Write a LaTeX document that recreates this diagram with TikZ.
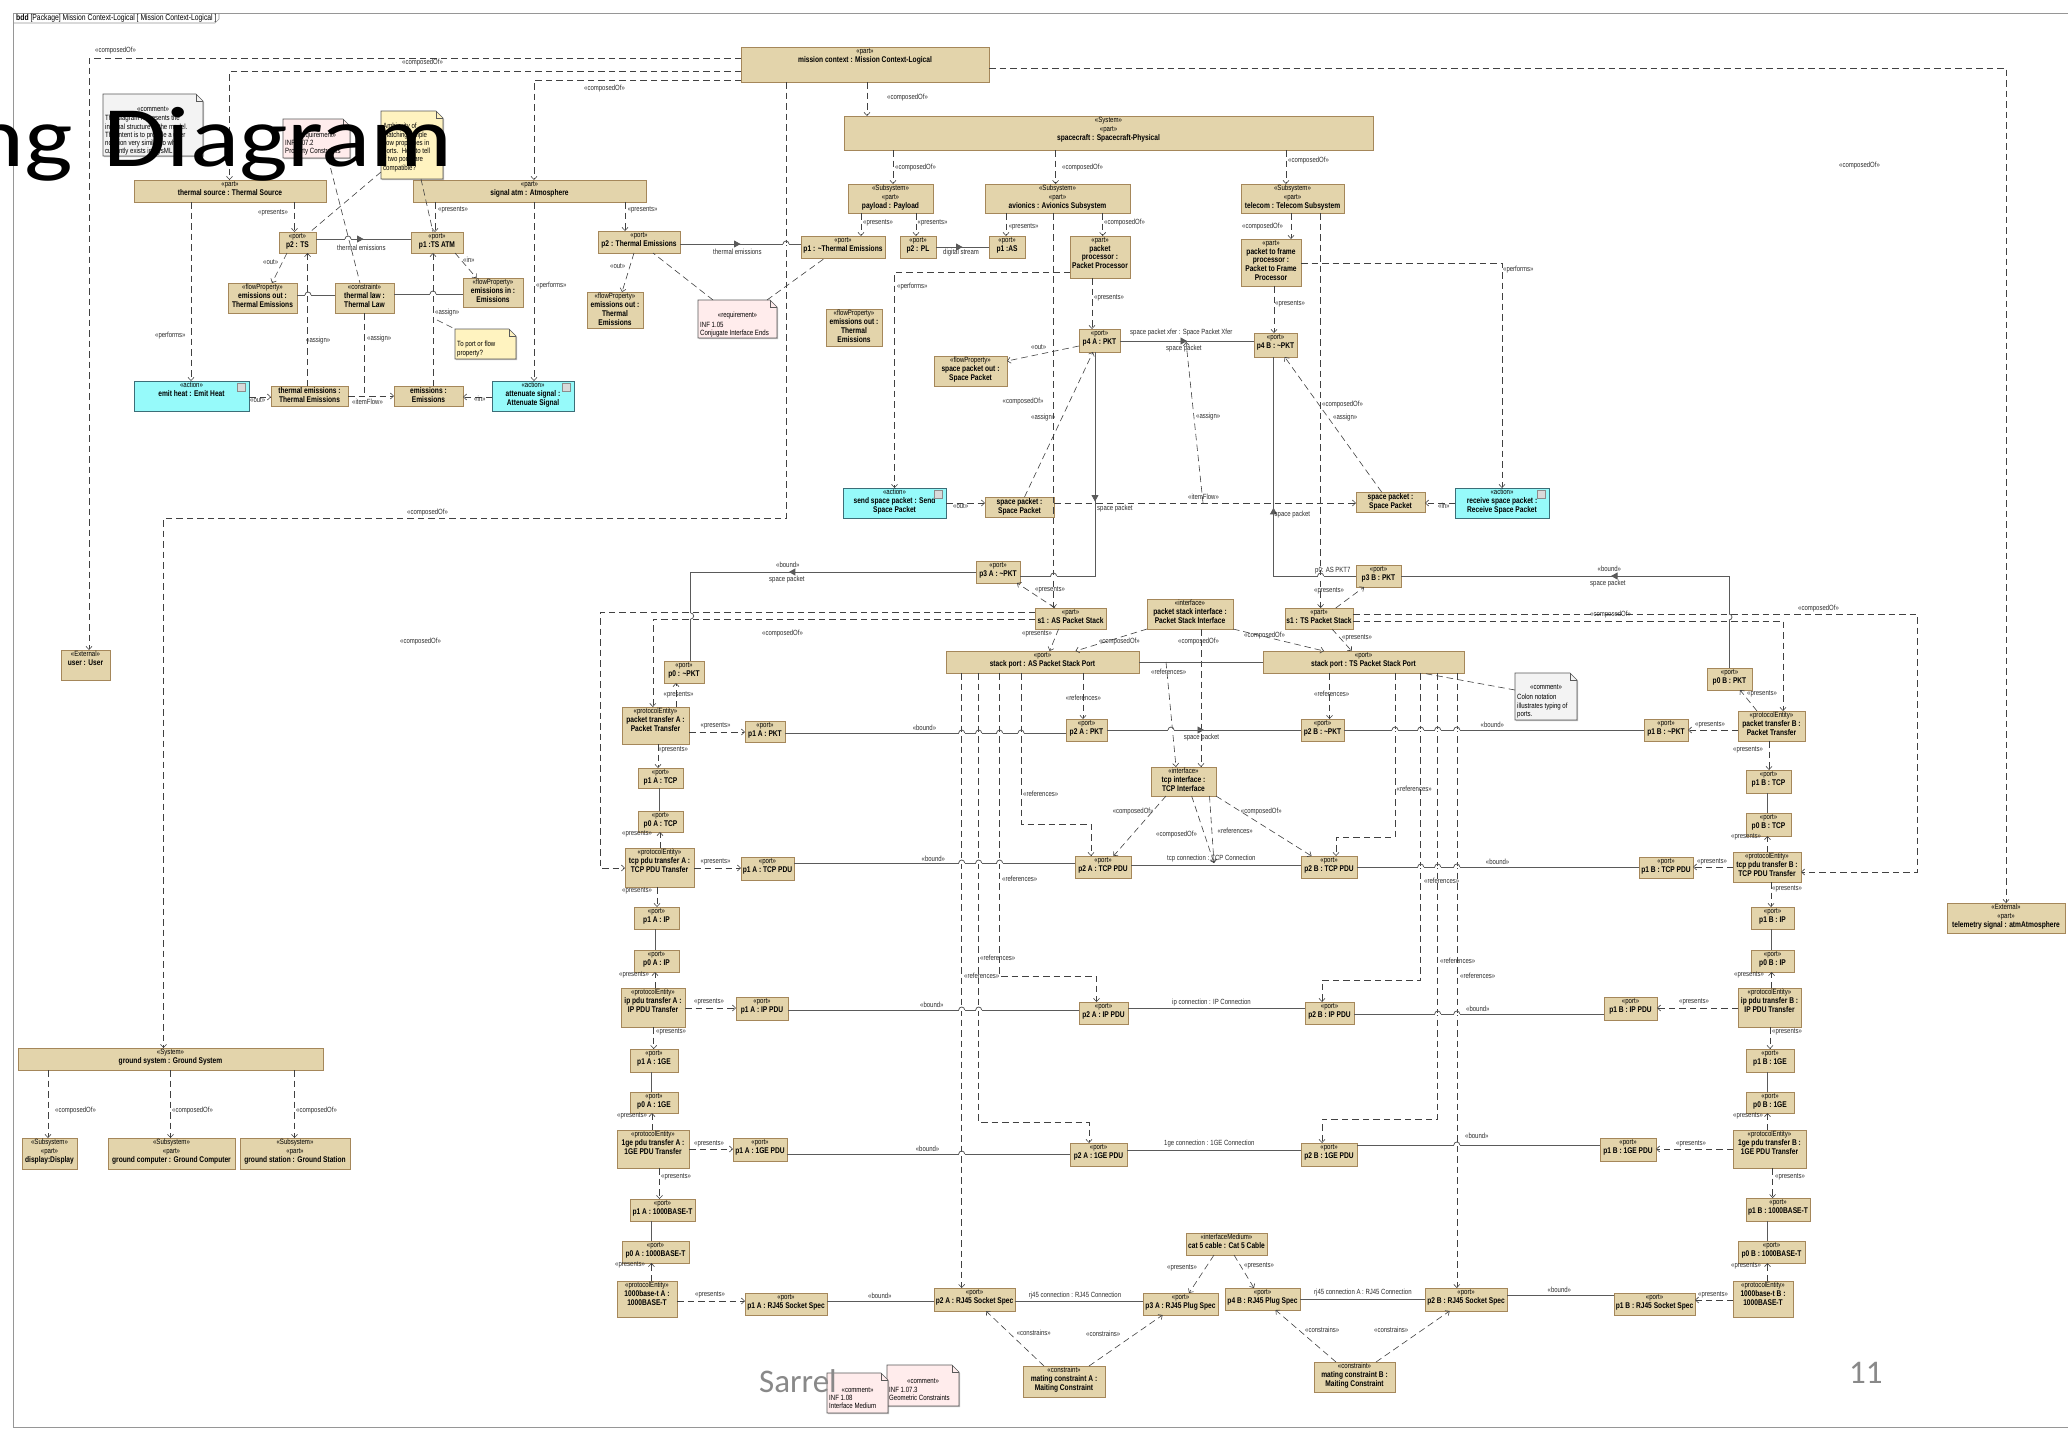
\documentclass[tikz,border=0pt]{standalone}
\usepackage{fontspec}
\setmainfont{Liberation Sans}
\newfontfamily\umlf[FakeStretch=0.8]{Liberation Sans}
\newfontfamily\slidef{Carlito}
\usetikzlibrary{arrows.meta,shadows,decorations.markings}

\definecolor{boxfill}{RGB}{227,212,171}
\definecolor{boxline}{RGB}{165,135,90}
\definecolor{actfill}{RGB}{150,250,250}
\definecolor{actline}{RGB}{60,110,120}
\definecolor{lnc}{RGB}{65,65,65}
\definecolor{slc}{RGB}{90,90,90}
\definecolor{txtc}{RGB}{45,45,45}
\definecolor{notegray}{RGB}{243,243,243}
\definecolor{notepink}{RGB}{255,236,236}
\definecolor{noteyel}{RGB}{255,243,192}
\definecolor{framec}{RGB}{150,150,150}
\definecolor{slidegray}{RGB}{137,137,137}

\newcommand\sto[1]{{\mdseries\fontsize{7.6}{8.8}\selectfont«#1»}}
\newcommand\gq[1]{«#1»}
% block: [style]{name}{x1}{y1}{x2}{y2}{text}
\newcommand\ubox[7][]{%
  \node[ubox,#1,minimum width={#5-#3},minimum height={#6-#4},anchor=north west] (#2) at (#3,#4) {};%
  \node[utext] (#2-t) at (#2.north) {#7};}
% note with folded corner: [fill]{name}{x1}{y1}{x2}{y2}
\newcommand\unote[6][]{%
  \node[inner sep=0pt,outer sep=0pt,minimum width={#5-#3},minimum height={#6-#4},anchor=north west] (#2) at (#3,#4) {};%
  \filldraw[notepath,#1] (#2.north west) -- ([xshift=-7pt]#2.north east) -- ([yshift=-7pt]#2.north east) -- (#2.south east) -- (#2.south west) -- cycle;%
  \draw[notefold] ([xshift=-7pt]#2.north east) |- ([yshift=-7pt]#2.north east);}
\newcommand\acticon[1]{\draw[draw=black!45,fill=black!15,line width=0.4pt] ([xshift=-12pt,yshift=-2.5pt]#1.north east) rectangle ([xshift=-4pt,yshift=-10pt]#1.north east);}
% line hops where a solid connector crosses another line
\newcommand\hop[2]{\fill[white] ({#1-3},{#2-1.3}) rectangle ({#1+3},{#2+1.3}); \draw[sln] ({#1-3},#2) arc[start angle=180,end angle=360,radius=3];}
\newcommand\vhop[2]{\fill[white] ({#1-1.3},{#2-3}) rectangle ({#1+1.3},{#2+3}); \draw[sln] (#1,{#2-3}) arc[start angle=270,end angle=450,radius=3];}
\newcounter{lb}
\newcommand\lab[2]{\stepcounter{lb}\node[lbl] (lab\the\value{lb}) at (#1) {#2};}

\tikzset{
  ubox/.style={draw=boxline, fill=boxfill, line width=0.7pt, inner sep=0pt, outer sep=0pt,
    drop shadow={shadow xshift=1.3pt, shadow yshift=-1.3pt, fill=black, opacity=0.3}},
  act/.style={draw=actline, fill=actfill},
  utext/.style={anchor=north, inner sep=1.2pt, align=center, text=black,
    font=\umlf\bfseries\fontsize{8.3}{8.8}\selectfont},
  ntext/.style={anchor=north west, inner sep=0pt, align=left, text=black,
    font=\umlf\fontsize{7.6}{8.3}\selectfont},
  notepath/.style={draw=black!65, line width=0.6pt,
    drop shadow={shadow xshift=1.2pt, shadow yshift=-1.2pt, fill=black, opacity=0.25}},
  notefold/.style={draw=black!65, line width=0.6pt},
  lbl/.style={anchor=west, inner sep=0pt, text=txtc, font=\umlf\fontsize{7.5}{8}\selectfont},
  dep/.style={draw=lnc, line width=0.6pt, dash pattern=on 6.5pt off 4pt,
    -{Straight Barb[length=3.2pt,width=6pt]}},
  dln/.style={draw=lnc, line width=0.6pt, dash pattern=on 6.5pt off 4pt},
  sln/.style={draw=slc, line width=0.8pt},
  flow/.style={sln, postaction={decorate}, decoration={markings,
    mark=at position 0.5 with {\arrow{Triangle[length=6.5pt,width=7pt]}}}},
}

\begin{document}
\begin{tikzpicture}[x=1pt,y=-1pt]
\useasboundingbox (0,0) rectangle (2068,1428);
\clip (0,0) rectangle (2068,1428);
\fill[white] (0,0) rectangle (2068,1428);

% diagram frame and its name tab
\draw[framec, line width=0.7pt] (2075,13) -- (13,13) -- (13,1427) -- (2075,1427);
\draw[framec, line width=0.6pt] (13,23) -- (215,23) -- (219,19) -- (219,13);
\node[anchor=west, inner sep=0pt, font=\umlf\fontsize{8.5}{9}\selectfont] (tab) at (16,18) {\textbf{bdd} [Package] Mission Context-Logical [ Mission Context-Logical ]};

% ---------------- blocks ----------------
\ubox{mission}{741}{47}{989}{82}{\sto{part}\\mission context : Mission Context-Logical}
\ubox{sc}{844}{116}{1373}{150}{\sto{System}\\\sto{part}\\spacecraft : Spacecraft-Physical}
\ubox{payload}{848}{184}{933}{213}{\sto{Subsystem}\\\sto{part}\\payload : Payload}
\ubox{avionics}{985}{184}{1130}{213}{\sto{Subsystem}\\\sto{part}\\avionics : Avionics Subsystem}
\ubox{telecom}{1241}{184}{1344}{213}{\sto{Subsystem}\\\sto{part}\\telecom : Telecom Subsystem}

\ubox{thermsrc}{134}{180}{326}{202}{\sto{part}\\thermal source : Thermal Source}
\ubox{sigatm}{413}{180}{646}{202}{\sto{part}\\signal atm : Atmosphere}
\ubox{p2TS}{279}{232}{316}{253}{\sto{port}\\p2 : TS}
\ubox{p1TSATM}{411}{232}{463}{253}{\sto{port}\\p1 :TS ATM}
\ubox{emout1}{228}{283}{297}{313}{\sto{flowProperty}\\emissions out :\\Thermal Emissions}
\ubox{thlaw}{335}{283}{394}{313}{\sto{constraint}\\thermal law :\\Thermal Law}
\ubox{emin}{463}{278}{523}{307}{\sto{flowProperty}\\emissions in :\\Emissions}
\ubox[act]{emitheat}{134}{381}{249}{411}{\sto{action}\\emit heat : Emit Heat}
\ubox{themis}{271}{386}{348}{406}{thermal emissions :\\Thermal Emissions}
\ubox{emis}{394}{386}{463}{406}{emissions :\\Emissions}
\ubox[act]{atten}{492}{381}{574}{411}{\sto{action}\\attenuate signal :\\Attenuate Signal}
\acticon{emitheat}\acticon{atten}

\ubox{p2TE}{598}{231}{680}{253}{\sto{port}\\p2 : Thermal Emissions}
\ubox{emout2}{587}{292}{643}{328}{\sto{flowProperty}\\emissions out :\\Thermal\\Emissions}
\ubox{p1TE}{801}{236}{885}{258}{\sto{port}\\p1 : \textasciitilde Thermal Emissions}
\ubox{p2PL}{900}{236}{936}{258}{\sto{port}\\p2 : PL}
\ubox{p1AS}{989}{236}{1025}{258}{\sto{port}\\p1 :AS}
\ubox{pktproc}{1070}{236}{1130}{278}{\sto{part}\\packet\\processor :\\Packet Processor}
\ubox{emout3}{826}{309}{882}{346}{\sto{flowProperty}\\emissions out :\\Thermal\\Emissions}
\ubox{p2f}{1241}{239}{1301}{286}{\sto{part}\\packet to frame\\processor :\\Packet to Frame\\Processor}

\ubox{p4A}{1079}{329}{1120}{352}{\sto{port}\\p4 A : PKT}
\ubox{p4B}{1254}{333}{1297}{357}{\sto{port}\\p4 B : \textasciitilde PKT}
\ubox{spout}{934}{356}{1007}{386}{\sto{flowProperty}\\space packet out :\\Space Packet}
\ubox[act]{sendsp}{843}{488}{946}{518}{\sto{action}\\send space packet : Send\\Space Packet}
\ubox{spA}{985}{497}{1054}{517}{space packet :\\Space Packet}
\ubox{spB}{1356}{492}{1425}{512}{space packet :\\Space Packet}
\ubox[act]{recvsp}{1455}{488}{1549}{518}{\sto{action}\\receive space packet :\\Receive Space Packet}
\acticon{sendsp}\acticon{recvsp}
\ubox{p3A}{976}{561}{1020}{583}{\sto{port}\\p3 A : \textasciitilde PKT}
\ubox{p3B}{1356}{565}{1401}{587}{\sto{port}\\p3 B : PKT}
\ubox{s1AS}{1035}{608}{1106}{629}{\sto{part}\\s1 : AS Packet Stack}
\ubox{s1TS}{1285}{608}{1353}{629}{\sto{part}\\s1 : TS Packet Stack}
\ubox{psi}{1147}{599}{1233}{629}{\sto{interface}\\packet stack interface :\\Packet Stack Interface}
\ubox{spAS}{946}{651}{1139}{673}{\sto{port}\\stack port : AS Packet Stack Port}
\ubox{spTS}{1263}{651}{1464}{673}{\sto{port}\\stack port : TS Packet Stack Port}

\ubox{p0A}{664}{661}{704}{683}{\sto{port}\\p0 : \textasciitilde PKT}
\ubox{ptA}{622}{707}{689}{744}{\sto{protocolEntity}\\packet transfer A :\\Packet Transfer}
\ubox{p1APKT}{745}{721}{785}{742}{\sto{port}\\p1 A : PKT}
\ubox{p2APKT}{1066}{719}{1107}{741}{\sto{port}\\p2 A : PKT}
\ubox{p2BPKT}{1301}{719}{1344}{741}{\sto{port}\\p2 B : \textasciitilde PKT}
\ubox{p1BPKT}{1644}{719}{1688}{741}{\sto{port}\\p1 B : \textasciitilde PKT}
\ubox{p0B}{1707}{668}{1752}{690}{\sto{port}\\p0 B : PKT}
\ubox{ptB}{1738}{711}{1805}{741}{\sto{protocolEntity}\\packet transfer B :\\Packet Transfer}
\ubox{tcpI}{1151}{767}{1216}{796}{\sto{interface}\\tcp interface :\\TCP Interface}
\ubox{p1ATCP}{638}{768}{683}{788}{\sto{port}\\p1 A : TCP}
\ubox{p0ATCP}{638}{811}{683}{832}{\sto{port}\\p0 A : TCP}
\ubox{tpA}{625}{848}{694}{887}{\sto{protocolEntity}\\tcp pdu transfer A :\\TCP PDU Transfer}
\ubox{p1ATPDU}{741}{857}{794}{880}{\sto{port}\\p1 A : TCP PDU}
\ubox{p2ATPDU}{1075}{856}{1131}{878}{\sto{port}\\p2 A : TCP PDU}
\ubox{p2BTPDU}{1301}{856}{1357}{878}{\sto{port}\\p2 B : TCP PDU}
\ubox{p1BTPDU}{1639}{857}{1693}{878}{\sto{port}\\p1 B : TCP PDU}
\ubox{tpB}{1733}{852}{1801}{882}{\sto{protocolEntity}\\tcp pdu transfer B :\\TCP PDU Transfer}
\ubox{p1BTCP}{1746}{770}{1791}{793}{\sto{port}\\p1 B : TCP}
\ubox{p0BTCP}{1746}{813}{1791}{836}{\sto{port}\\p0 B : TCP}

\ubox{p1AIP}{634}{907}{679}{929}{\sto{port}\\p1 A : IP}
\ubox{p0AIP}{634}{950}{679}{972}{\sto{port}\\p0 A : IP}
\ubox{ipA}{621}{988}{685}{1027}{\sto{protocolEntity}\\ip pdu transfer A :\\IP PDU Transfer}
\ubox{p1AIPPDU}{736}{997}{788}{1020}{\sto{port}\\p1 A : IP PDU}
\ubox{p2AIPPDU}{1079}{1002}{1128}{1024}{\sto{port}\\p2 A : IP PDU}
\ubox{p2BIPPDU}{1305}{1002}{1354}{1024}{\sto{port}\\p2 B : IP PDU}
\ubox{p1BIPPDU}{1604}{997}{1657}{1020}{\sto{port}\\p1 B : IP PDU}
\ubox{ipB}{1738}{988}{1801}{1027}{\sto{protocolEntity}\\ip pdu transfer B :\\IP PDU Transfer}
\ubox{p1BIP}{1751}{907}{1794}{929}{\sto{port}\\p1 B : IP}
\ubox{p0BIP}{1751}{950}{1794}{972}{\sto{port}\\p0 B : IP}

\ubox{p1A1GE}{630}{1049}{678}{1072}{\sto{port}\\p1 A : 1GE}
\ubox{p0A1GE}{630}{1092}{678}{1113}{\sto{port}\\p0 A : 1GE}
\ubox{geA}{617}{1130}{689}{1168}{\sto{protocolEntity}\\1ge pdu transfer A :\\1GE PDU Transfer}
\ubox{p1A1GEPDU}{733}{1138}{787}{1161}{\sto{port}\\p1 A : 1GE PDU}
\ubox{p2A1GEPDU}{1070}{1143}{1127}{1166}{\sto{port}\\p2 A : 1GE PDU}
\ubox{p2B1GEPDU}{1301}{1143}{1357}{1166}{\sto{port}\\p2 B : 1GE PDU}
\ubox{p1B1GEPDU}{1600}{1138}{1656}{1161}{\sto{port}\\p1 B : 1GE PDU}
\ubox{geB}{1733}{1130}{1806}{1168}{\sto{protocolEntity}\\1ge pdu transfer B :\\1GE PDU Transfer}
\ubox{p1B1GE}{1746}{1049}{1794}{1072}{\sto{port}\\p1 B : 1GE}
\ubox{p0B1GE}{1746}{1092}{1794}{1113}{\sto{port}\\p0 B : 1GE}

\ubox{p1A1000}{630}{1199}{695}{1221}{\sto{port}\\p1 A : 1000BASE-T}
\ubox{p0A1000}{622}{1241}{689}{1263}{\sto{port}\\p0 A : 1000BASE-T}
\ubox{btA}{617}{1281}{677}{1317}{\sto{protocolEntity}\\1000base-t A :\\1000BASE-T}
\ubox{p1ARJ}{745}{1293}{827}{1315}{\sto{port}\\p1 A : RJ45 Socket Spec}
\ubox{p2ARJ}{934}{1288}{1015}{1311}{\sto{port}\\p2 A : RJ45 Socket Spec}
\ubox{p3ARJ}{1143}{1293}{1218}{1315}{\sto{port}\\p3 A : RJ45 Plug Spec}
\ubox{cat5}{1186}{1233}{1267}{1255}{\sto{interfaceMedium}\\cat 5 cable : Cat 5 Cable}
\ubox{p4BRJ}{1225}{1288}{1300}{1310}{\sto{port}\\p4 B : RJ45 Plug Spec}
\ubox{p2BRJ}{1425}{1288}{1507}{1311}{\sto{port}\\p2 B : RJ45 Socket Spec}
\ubox{p1BRJ}{1614}{1293}{1695}{1315}{\sto{port}\\p1 B : RJ45 Socket Spec}
\ubox{btB}{1733}{1281}{1793}{1317}{\sto{protocolEntity}\\1000base-t B :\\1000BASE-T}
\ubox{p1B1000}{1746}{1198}{1810}{1221}{\sto{port}\\p1 B : 1000BASE-T}
\ubox{p0B1000}{1738}{1241}{1805}{1263}{\sto{port}\\p0 B : 1000BASE-T}
\ubox{matA}{1023}{1366}{1105}{1397}{\sto{constraint}\\mating constraint A :\\Maiting Constraint}
\ubox{matB}{1314}{1362}{1395}{1392}{\sto{constraint}\\mating constraint B :\\Maiting Constraint}

\ubox{telem}{1947}{903}{2065}{933}{\sto{External}\\\sto{part}\\telemetry signal : atmAtmosphere}
\ubox{user}{61}{650}{110}{680}{\sto{External}\\user : User}
\ubox{ground}{18}{1048}{323}{1070}{\sto{System}\\ground system : Ground System}
\ubox{display}{22}{1138}{77}{1169}{\sto{Subsystem}\\\sto{part}\\display:Display}
\ubox{gcomp}{108}{1138}{235}{1169}{\sto{Subsystem}\\\sto{part}\\ground computer : Ground Computer}
\ubox{gstat}{240}{1138}{350}{1169}{\sto{Subsystem}\\\sto{part}\\ground station : Ground Station}

% ---------------- notes ----------------
\unote[fill=notegray]{comm1}{103}{94}{203}{156}
\node[ntext,anchor=north] (comm1-s) at ([yshift=-12pt]comm1.north) {«comment»};
\node[ntext] (comm1-t) at ([xshift=2pt,yshift=-21pt]comm1.north west) {The diagram represents the\\internal structure of the model.\\The intent is to provide a user\\notation very similar to what\\currently exists in SysML v1.};
\unote[fill=notepink]{req1072}{283}{119}{350}{158}
\begin{scope}
\clip (req1072.south west) rectangle ([xshift=-0.5pt]req1072.north east);
\node[ntext,anchor=north] (req1072-s) at ([yshift=-13pt]req1072.north) {«requirement»};
\node[ntext] (req1072-t) at ([xshift=2pt,yshift=-21pt]req1072.north west) {INF 1.07.2\\Property Constraints};
\end{scope}
\unote[fill=noteyel]{noteAmb}{381}{111}{443}{179}
\node[ntext] (noteAmb-t) at ([xshift=2pt,yshift=-12pt]noteAmb.north west) {Ambiguity of\\matching simple\\flow properties in\\ports.\ \ How to tell\\if two ports are\\compatible?};
\unote[fill=noteyel]{noteTo}{455}{329}{516}{359}
\node[ntext] (noteTo-t) at ([xshift=2pt,yshift=-12pt]noteTo.north west) {To port or flow\\property?};
\unote[fill=notepink]{req105}{698}{300}{777}{338}
\node[ntext,anchor=north] (req105-s) at ([yshift=-12pt]req105.north) {«requirement»};
\node[ntext] (req105-t) at ([xshift=2pt,yshift=-22pt]req105.north west) {INF 1.05\\Conjugate Interface Ends};
\unote[fill=notegray]{colon}{1515}{673}{1577}{720}
\node[ntext,anchor=north] (colon-s) at ([yshift=-11pt]colon.north) {«comment»};
\node[ntext] (colon-t) at ([xshift=2pt,yshift=-21pt]colon.north west) {Colon notation\\illustrates typing of\\ports.};
\unote[fill=notepink]{inf1073}{887}{1365}{959}{1406}
\node[ntext,anchor=north] (inf1073-s) at ([yshift=-13pt]inf1073.north) {«comment»};
\node[ntext] (inf1073-t) at ([xshift=2pt,yshift=-22pt]inf1073.north west) {INF 1.07.3\\Geometric Constraints};
\unote[fill=notepink]{inf108}{827}{1373}{888}{1413}
\node[ntext,anchor=north] (inf108-s) at ([yshift=-14pt]inf108.north) {«comment»};
\node[ntext] (inf108-t) at ([xshift=2pt,yshift=-22pt]inf108.north west) {INF 1.08\\Interface Medium};

% ---------------- composition from the mission context ----------------
\draw[dep] (mission.west |- 0,58) -| (user.north -| 89,0);
\draw[dep] (mission.west |- 0,71) -| (thermsrc.north -| 229.5,0);
\draw[dep] (mission.west |- 0,80) -| (sigatm.north -| 534,0);
\draw[dep] (mission.south -| 786,0) |- (163.5,518) -- (ground.north -| 163.5,0);
\draw[dep] (mission.south -| 867,0) -- (sc.north -| 867,0);
\draw[dep] (mission.east |- 0,68) -| (telem.north -| 2006,0);
\draw[dep] (sc.south -| 893,0) -- (payload.north -| 893,0);
\draw[dep] (sc.south -| 1055.6,0) -- (avionics.north -| 1055.6,0);
\draw[dep] (sc.south -| 1286,0) -- (telecom.north -| 1286,0);
\draw[dep] (payload.south -| 861,0) -- (p1TE.north -| 861,0);
\draw[dep] (payload.south -| 916,0) -- (p2PL.north -| 916,0);
\draw[dep] (avionics.south -| 1006,0) -- (p1AS.north -| 1006,0);
\draw[dep] (avionics.south -| 1102.7,0) -- (pktproc.north -| 1102.7,0);
\draw[dep] (telecom.south -| 1291,0) -- (p2f.north -| 1291,0);
\draw[dep] (pktproc.south -| 1092,0) -- (p4A.north -| 1092,0);
\draw[dep] (p2f.south -| 1274,0) -- (p4B.north -| 1274,0);
\draw[dep] (avionics.south -| 1053.6,0) -- (s1AS.north -| 1053.6,0);
\draw[dep] (telecom.south -| 1320.6,0) -- (s1TS.north -| 1320.6,0);
\draw[dep] (pktproc.west |- 0,272) -| (sendsp.north -| 894.5,0);
\draw[dep] (p2f.east |- 0,263) -| (recvsp.north -| 1502,0);

% ---------------- thermal emission ----------------
\draw[dep] (thermsrc.south -| 294.5,0) -- (p2TS.north -| 294.5,0);
\draw[dep] (sigatm.south -| 435,0) -- (p1TSATM.north -| 435,0);
\draw[flow] (p2TS.east |- 0,239) -- (p1TSATM.west |- 0,239);
\draw[dep] (p2TS.south -| 287,0) -- (emout1.north -| 272,0);
\draw[dep] (p1TSATM.south -| 455,0) -- (emin.north -| 476.5,0);
\draw[sln] (emout1.east |- 0,295) -- (thlaw.west |- 0,295);
\draw[sln] (thlaw.east |- 0,294) -- (emin.west |- 0,294);
\draw[dep] (thermsrc.south -| 191,0) -- (emitheat.north -| 191,0);
\draw[dep] (sigatm.south -| 534,0) -- (atten.north -| 534,0);
\draw[dep] (emitheat.east |- 0,397) -- (themis.west |- 0,397);
\draw[dep] (themis.east |- 0,396) -- (emis.west |- 0,396);
\draw[dep] (atten.west |- 0,397) -- (emis.east |- 0,397);
\draw[dep] (themis.north -| 307.6,0) -- (p2TS.south -| 307.6,0);
\coordinate (ifT) at (364,396);
\draw[dln] (thlaw.south -| 364,0) -- (ifT);
\draw[dep] (emis.north -| 433,0) -- (p1TSATM.south -| 433,0);
\coordinate (asgT) at (437,320);
\draw[dln] (asgT) -- (noteTo.north west);
\draw[dln] (noteAmb.west |- 0,172) -- (p2TS.north -| 310,0);
\draw[dln] (noteAmb.south -| 421,0) -- (p1TSATM.north -| 433,0);
\draw[dln] (req1072.south -| 328,0) -- (thlaw.north -| 360,0);

\draw[dep] (sigatm.south -| 625,0) -- (p2TE.north -| 625,0);
\draw[flow] (p2TE.east |- 0,244) -- (p1TE.west |- 0,244);
\draw[dep] (p2TE.south -| 634,0) -- (emout2.north -| 622,0);
\draw[dln] (req105.north -| 713,0) -- (p2TE.south -| 653,0);
\draw[dln] (req105.north -| 767,0) -- (p1TE.south -| 825,0);
\draw[flow] (p2PL.east |- 0,247) -- (p1AS.west |- 0,247);

% ---------------- space packet ----------------
\draw[flow] (p4A.east |- 0,341) -- (p4B.west |- 0,341);
\draw[dep] (p4A.west |- 0,346) -- (spout.east |- 0,361);
\draw[dep] (sendsp.east |- 0,503) -- (spA.west |- 0,503);
\draw[dep] (spA.east |- 0,503) -- (spB.west |- 0,503);
\draw[dep] (recvsp.west |- 0,503) -- (spB.east |- 0,503);
\coordinate (ifP) at (1203,503);
\coordinate (xferP) at (1186,342);
\draw[dep] (ifP) -- (xferP);
\draw[dep] (spA.north -| 1024.5,0) -- (p4A.south -| 1093,0);
\draw[dep] (spB.north -| 1381.6,0) -- (p4B.south -| 1284.7,0);
\draw[flow] (p4A.south -| 1095,0) |- (p3A.east |- 0,576);
\draw[flow] (p3B.west |- 0,576) -| (p4B.south -| 1273.5,0);
\draw[flow] (p3A.west |- 0,572) -| (p0A.north -| 690.7,0);
\draw[flow] (p0B.north -| 1729,0) |- (p3B.east |- 0,576);
\draw[dep] (s1AS.north -| 1055,0) -- (p3A.south -| 1017,0);
\draw[dep] (s1TS.north -| 1335.7,0) -- (p3B.south -| 1364,0);

% ---------------- packet stacks ----------------
\draw[dep] (s1AS.west |- 0,612) -| (600,868) -- (tpA.west |- 0,868);
\draw[dep] (s1AS.west |- 0,619) -| (ptA.north -| 652.8,0);
\draw[dep] (s1AS.south -| 1058.6,0) -- (spAS.north -| 1049.6,0);
\draw[dep] (s1TS.south -| 1332,0) -- (spTS.north -| 1351.7,0);
\draw[dep] (psi.south west) -- (spAS.north -| 1075.5,0);
\draw[dep] (psi.south east) -- (spTS.north -| 1324,0);
\draw[dep] (psi.south -| 1201,0) -- (tcpI.north -| 1201,0);
\draw[sln] (spAS.east |- 0,662) -- (spTS.west |- 0,662);
\coordinate (ssM) at (1166,662);
\draw[dep] (ssM) -- (tcpI.north -| 1176,0);
\draw[dep] (spAS.south -| 1083,0) -- (p2APKT.north -| 1083,0);
\draw[dep] (spTS.south -| 1329.5,0) -- (p2BPKT.north -| 1329.5,0);
\draw[flow] (p2APKT.east |- 0,730) -- (p2BPKT.west |- 0,730);
\draw[sln] (p1APKT.east |- 0,733) -- (p2APKT.west |- 0,733);
\draw[dep] (ptA.east |- 0,732) -- (p1APKT.west |- 0,732);
\draw[dep] (ptA.north -| 676,0) -- (p0A.south -| 676,0);
\draw[dep] (ptA.south -| 658,0) -- (p1ATCP.north -| 658,0);
\draw[sln] (p1ATCP.south -| 659.5,0) -- (p0ATCP.north -| 659.5,0);
\draw[dep] (tpA.north -| 660,0) -- (p0ATCP.south -| 660,0);
\draw[dep] (tpA.east |- 0,868) -- (p1ATPDU.west |- 0,868);
\draw[sln] (p1ATPDU.east |- 0,863) -- (p2ATPDU.west |- 0,863);

\draw[dep] (spAS.south -| 961.7,0) -- (p2ARJ.north -| 961.7,0);
\draw[dep] (spAS.south -| 978.7,0) |- (1089,1122) -- (p2A1GEPDU.north -| 1089,0);
\draw[dep] (spAS.south -| 999.6,0) |- (1096.5,976) -- (p2AIPPDU.north -| 1096.5,0);
\draw[dep] (spAS.south -| 1021,0) |- (1091,824) -- (p2ATPDU.north -| 1091,0);
\draw[dep] (spTS.south -| 1395,0) |- (1336,837) -- (p2BTPDU.north -| 1336,0);
\draw[dep] (spTS.south -| 1420.7,0) |- (1322,980) -- (p2BIPPDU.north -| 1322,0);
\draw[dep] (spTS.south -| 1437.7,0) |- (1322,1119) -- (p2B1GEPDU.north -| 1322,0);
\draw[dep] (spTS.south -| 1456.8,0) -- (p2BRJ.north -| 1456.8,0);

\draw[sln] (p2BPKT.east |- 0,730) -- (p1BPKT.west |- 0,730);
\draw[dep] (ptB.west |- 0,730) -- (p1BPKT.east |- 0,730);
\draw[dep] (ptB.north -| 1757,0) -- (p0B.south -| 1740,0);
\draw[dep] (s1TS.east |- 0,621) -| (ptB.north -| 1783,0);
\draw[dep] (s1TS.east |- 0,614) -| (1917,872) -- (tpB.east |- 0,872);
\draw[dep] (ptB.south -| 1769,0) -- (p1BTCP.north -| 1769,0);
\draw[sln] (p1BTCP.south -| 1767.5,0) -- (p0BTCP.north -| 1767.5,0);
\draw[dep] (tpB.north -| 1767.5,0) -- (p0BTCP.south -| 1767.5,0);
\draw[dep] (tpB.west |- 0,867) -- (p1BTPDU.east |- 0,867);
\draw[sln] (p2BTPDU.east |- 0,867) -- (p1BTPDU.west |- 0,867);
\draw[sln] (p2ATPDU.east |- 0,865) -- (p2BTPDU.west |- 0,865);
\coordinate (tcpC) at (1214,863);
\draw[dep] (tcpI.south -| 1166,0) -- (p2ATPDU.north -| 1113.5,0);
\draw[dep] (tcpI.south -| 1191.6,0) -- (tcpC);
\draw[dep] (tcpI.south -| 1209.5,0) -- (tcpC);
\draw[dep] (tcpI.south east) -- (p2BTPDU.north -| 1311.5,0);
\draw[dln] (colon.west |- 0,690) -- (spTS.south -| 1422,0);

% ---------------- IP / 1GE / 1000BASE-T layers ----------------
\draw[dep] (tpA.south -| 657,0) -- (p1AIP.north -| 657,0);
\draw[sln] (p1AIP.south -| 655,0) -- (p0AIP.north -| 655,0);
\draw[dep] (ipA.north -| 655,0) -- (p0AIP.south -| 655,0);
\draw[dep] (ipA.east |- 0,1008) -- (p1AIPPDU.west |- 0,1008);
\draw[sln] (p1AIPPDU.east |- 0,1010) -- (p2AIPPDU.west |- 0,1010);
\draw[sln] (p2AIPPDU.east |- 0,1008) -- (p2BIPPDU.west |- 0,1008);
\draw[sln] (p2BIPPDU.east |- 0,1014) -- (p1BIPPDU.west |- 0,1014);
\draw[dep] (ipB.west |- 0,1008) -- (p1BIPPDU.east |- 0,1008);
\draw[dep] (tpB.south -| 1771,0) -- (p1BIP.north -| 1771,0);
\draw[sln] (p1BIP.south -| 1771.6,0) -- (p0BIP.north -| 1771.6,0);
\draw[dep] (ipB.north -| 1771.6,0) -- (p0BIP.south -| 1771.6,0);

\draw[dep] (ipA.south -| 653.7,0) -- (p1A1GE.north -| 653.7,0);
\draw[sln] (p1A1GE.south -| 651,0) -- (p0A1GE.north -| 651,0);
\draw[dep] (geA.north -| 652,0) -- (p0A1GE.south -| 652,0);
\draw[dep] (geA.east |- 0,1149) -- (p1A1GEPDU.west |- 0,1149);
\draw[sln] (p1A1GEPDU.east |- 0,1154) -- (p2A1GEPDU.west |- 0,1154);
\draw[sln] (p2A1GEPDU.east |- 0,1150) -- (p2B1GEPDU.west |- 0,1150);
\draw[sln] (p2B1GEPDU.east |- 0,1145) -- (p1B1GEPDU.west |- 0,1145);
\draw[dep] (geB.west |- 0,1149) -- (p1B1GEPDU.east |- 0,1149);
\draw[dep] (ipB.south -| 1770,0) -- (p1B1GE.north -| 1770,0);
\draw[sln] (p1B1GE.south -| 1767.5,0) -- (p0B1GE.north -| 1767.5,0);
\draw[dep] (geB.north -| 1767.5,0) -- (p0B1GE.south -| 1767.5,0);

\draw[dep] (geA.south -| 659.5,0) -- (p1A1000.north -| 659.5,0);
\draw[sln] (p1A1000.south -| 651.4,0) -- (p0A1000.north -| 651.4,0);
\draw[dep] (btA.north -| 651.4,0) -- (p0A1000.south -| 651.4,0);
\draw[dep] (btA.east |- 0,1301) -- (p1ARJ.west |- 0,1301);
\draw[sln] (p1ARJ.east |- 0,1301) -- (p2ARJ.west |- 0,1301);
\draw[sln] (p2ARJ.east |- 0,1301) -- (p3ARJ.west |- 0,1301);
\draw[dep] (cat5.south -| 1214,0) -- (p3ARJ.north -| 1189,0);
\draw[dep] (cat5.south -| 1234,0) -- (p4BRJ.north -| 1254,0);
\draw[dep] (matA.north -| 1044,0) -- (p2ARJ.south -| 986,0);
\draw[dep] (matA.north -| 1089,0) -- (p3ARJ.south -| 1162.6,0);
\draw[sln] (p4BRJ.east |- 0,1299) -- (p2BRJ.west |- 0,1299);
\draw[sln] (p2BRJ.east |- 0,1295) -- (p1BRJ.west |- 0,1295);
\draw[dep] (btB.west |- 0,1300) -- (p1BRJ.east |- 0,1300);
\draw[dep] (matB.north -| 1336,0) -- (p4BRJ.south -| 1275.5,0);
\draw[dep] (matB.north -| 1376,0) -- (p2BRJ.south -| 1449.6,0);
\draw[dep] (geB.south -| 1772.6,0) -- (p1B1000.north -| 1772.6,0);
\draw[sln] (p1B1000.south -| 1767.5,0) -- (p0B1000.north -| 1767.5,0);
\draw[dep] (btB.north -| 1767.5,0) -- (p0B1000.south -| 1767.5,0);

% ground segment
\draw[dep] (ground.south -| 48,0) -- (display.north -| 48,0);
\draw[dep] (ground.south -| 170.5,0) -- (gcomp.north -| 170.5,0);
\draw[dep] (ground.south -| 294.5,0) -- (gstat.north -| 294.5,0);

% ---------------- line hops ----------------
\hop{348}{239}\hop{308}{295}\hop{433}{294}\hop{786}{244}
\hop{1053.6}{576}\hop{1320.6}{576}
\vhop{690.7}{616}\vhop{1729}{617}
\hop{1171}{730}
\hop{961.7}{733}\hop{978.7}{733}\hop{999.6}{733}\hop{1021}{733}
\hop{961.7}{863}\hop{978.7}{863}\hop{999.6}{863}
\hop{1395}{730}\hop{1420.7}{730}\hop{1437.7}{730}\hop{1456.8}{730}
\hop{1420.7}{867}\hop{1437.7}{867}\hop{1456.8}{867}
\hop{961.7}{1010}\hop{978.7}{1010}
\hop{1437.7}{1014}\hop{1456.8}{1014}
\hop{961.7}{1154}\hop{1456.8}{1145}

% ---------------- connector labels ----------------
\lab{95,51}{\gq{composedOf}}\lab{402,63}{\gq{composedOf}}\lab{584,89}{\gq{composedOf}}
\lab{407,513}{\gq{composedOf}}\lab{400,642}{\gq{composedOf}}\lab{887,98}{\gq{composedOf}}
\lab{1839,166}{\gq{composedOf}}\lab{895,168}{\gq{composedOf}}\lab{1062,168}{\gq{composedOf}}
\lab{1288,161}{\gq{composedOf}}\lab{1104,223}{\gq{composedOf}}\lab{1242,227}{\gq{composedOf}}
\lab{1002.5,402}{\gq{composedOf}}\lab{1322,405}{\gq{composedOf}}\lab{762,634}{\gq{composedOf}}
\lab{1098.8,642}{\gq{composedOf}}\lab{1244,636}{\gq{composedOf}}\lab{1178,642}{\gq{composedOf}}
\lab{1590,614.6}{\gq{composedOf}}\lab{1798,609}{\gq{composedOf}}\lab{1112.6,812}{\gq{composedOf}}
\lab{1156,835}{\gq{composedOf}}\lab{1240.7,812}{\gq{composedOf}}
\lab{55,1111}{\gq{composedOf}}\lab{172,1111}{\gq{composedOf}}\lab{296,1111}{\gq{composedOf}}

\lab{863,223}{\gq{presents}}\lab{917.5,223}{\gq{presents}}\lab{1008.6,227}{\gq{presents}}
\lab{1094,298}{\gq{presents}}\lab{1275,304}{\gq{presents}}\lab{258,213}{\gq{presents}}
\lab{438,210}{\gq{presents}}\lab{627.6,210}{\gq{presents}}\lab{1035,590}{\gq{presents}}
\lab{1314,591}{\gq{presents}}\lab{1022,634}{\gq{presents}}\lab{1342,638}{\gq{presents}}
\lab{700.5,726}{\gq{presents}}\lab{663.5,695}{\gq{presents}}\lab{658,750}{\gq{presents}}
\lab{622,834}{\gq{presents}}\lab{700.5,862}{\gq{presents}}\lab{622,891}{\gq{presents}}
\lab{619,975}{\gq{presents}}\lab{694,1002}{\gq{presents}}\lab{656,1032}{\gq{presents}}
\lab{617,1116}{\gq{presents}}\lab{694,1144}{\gq{presents}}\lab{661,1177}{\gq{presents}}
\lab{615,1265}{\gq{presents}}\lab{695,1295}{\gq{presents}}\lab{1167,1268}{\gq{presents}}
\lab{1244,1266}{\gq{presents}}\lab{1695,725}{\gq{presents}}\lab{1747,694}{\gq{presents}}
\lab{1733,750}{\gq{presents}}\lab{1731,837}{\gq{presents}}\lab{1697,862}{\gq{presents}}
\lab{1772,889}{\gq{presents}}\lab{1734,975}{\gq{presents}}\lab{1679,1002}{\gq{presents}}
\lab{1772,1032}{\gq{presents}}\lab{1733,1116}{\gq{presents}}\lab{1676,1144}{\gq{presents}}
\lab{1775,1177}{\gq{presents}}\lab{1731,1266}{\gq{presents}}\lab{1698,1295}{\gq{presents}}

\lab{155,336}{\gq{performs}}\lab{536,286}{\gq{performs}}\lab{897,287}{\gq{performs}}\lab{1503,270}{\gq{performs}}
\lab{263,262}{\gq{out}}\lab{250,400}{\gq{out}}\lab{610,266}{\gq{out}}\lab{1031,347}{\gq{out}}\lab{953,506}{\gq{out}}
\lab{463,260}{\gq{in}}\lab{474,399}{\gq{in}}\lab{1438,506}{\gq{in}}
\lab{352,402}{\gq{itemFlow}}\lab{1188,497}{\gq{itemFlow}}
\lab{306,341}{\gq{assign}}\lab{367,339}{\gq{assign}}\lab{435,313}{\gq{assign}}
\lab{1196,417}{\gq{assign}}\lab{1031,418}{\gq{assign}}\lab{1333,418}{\gq{assign}}
\lab{1151,672}{\gq{references}}\lab{1065.7,698}{\gq{references}}\lab{1314,694}{\gq{references}}
\lab{1023,794}{\gq{references}}\lab{1002,879}{\gq{references}}\lab{980,958}{\gq{references}}
\lab{964,976}{\gq{references}}\lab{1217.5,831}{\gq{references}}\lab{1396.5,789}{\gq{references}}
\lab{1424,881}{\gq{references}}\lab{1440,961}{\gq{references}}\lab{1460,976}{\gq{references}}
\lab{776,565}{\gq{bound}}\lab{1597.5,569}{\gq{bound}}\lab{912.6,728}{\gq{bound}}
\lab{921.5,859}{\gq{bound}}\lab{920,1005}{\gq{bound}}\lab{915.7,1149}{\gq{bound}}
\lab{868,1296}{\gq{bound}}\lab{1480.5,725}{\gq{bound}}\lab{1485.7,862}{\gq{bound}}
\lab{1466,1009}{\gq{bound}}\lab{1465,1136}{\gq{bound}}\lab{1547.5,1290}{\gq{bound}}
\lab{1016.6,1333}{\gq{constrains}}\lab{1086,1334}{\gq{constrains}}
\lab{1305,1330}{\gq{constrains}}\lab{1374,1330}{\gq{constrains}}

\lab{337,248}{thermal emissions}\lab{713,252}{thermal emissions}\lab{943,253}{digital stream}
\lab{1130,333}{space packet xfer : Space Packet Xfer}
\lab{1166,349}{space packet}\lab{1097,509}{space packet}\lab{1274.5,515}{space packet}
\lab{769,580}{space packet}\lab{1590,584}{space packet}\lab{1183.6,738}{space packet}
\lab{1315,571}{p0: AS PKT7}
\lab{1167,859}{tcp connection : TCP Connection}
\lab{1172,1003}{ip connection : IP Connection}
\lab{1164,1144}{1ge connection : 1GE Connection}
\lab{1028.7,1296}{rj45 connection : RJ45 Connection}
\lab{1314,1293}{rj45 connection A : RJ45 Connection}

% ---------------- slide text ----------------
\node[anchor=base east, inner sep=0pt, font=\slidef\fontsize{86}{90}\selectfont, xscale=1.195] (title) at (453,166.5) {ng\hspace{0.3em}Diagram};
\node[anchor=base west, inner sep=0pt, font=\slidef\fontsize{33}{36}\selectfont, text=slidegray] (sarrel) at (759,1392) {Sarrel};
\node[anchor=base west, inner sep=0pt, font=\slidef\fontsize{33}{36}\selectfont, text=slidegray] (pnum) at (1849,1383) {11};
\end{tikzpicture}
\end{document}
